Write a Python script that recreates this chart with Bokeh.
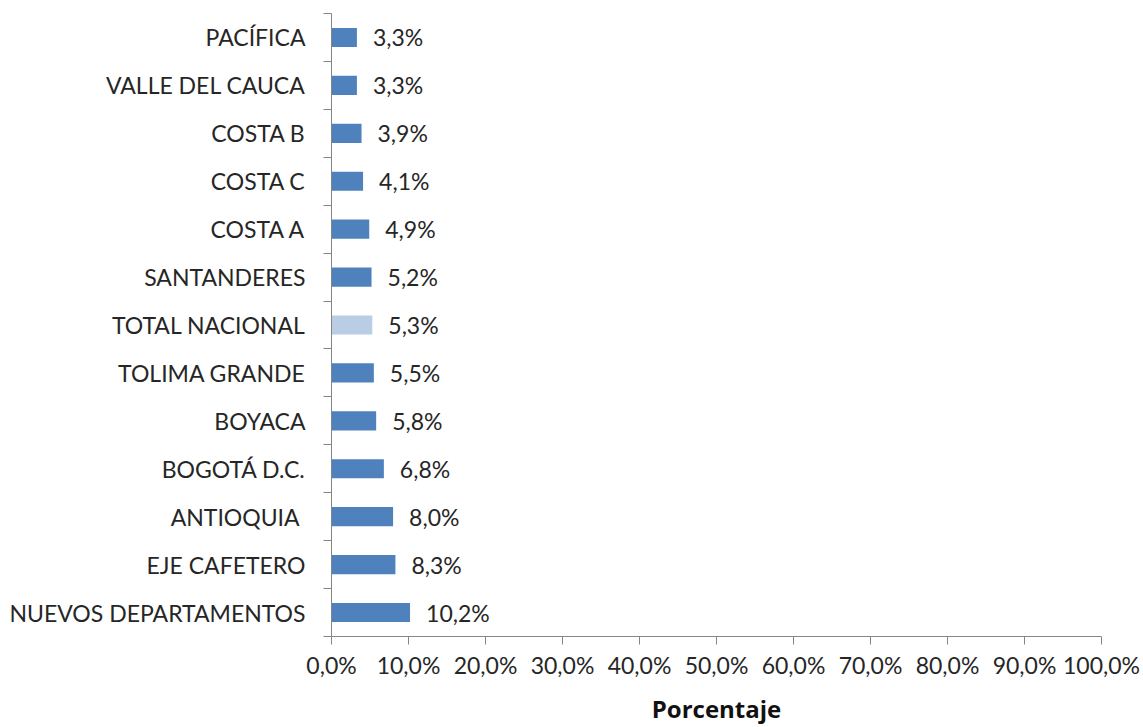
from bokeh.plotting import figure
from bokeh.models import FixedTicker, ColumnDataSource, Range1d
from bokeh.core.properties import value
from bokeh.embed import file_html
from bokeh.resources import INLINE

categories = ["NUEVOS DEPARTAMENTOS", "EJE CAFETERO", "ANTIOQUIA ", "BOGOTÁ D.C.",
              "BOYACA", "TOLIMA GRANDE", "TOTAL NACIONAL", "SANTANDERES", "COSTA A",
              "COSTA C", "COSTA B", "VALLE DEL CAUCA", "PACÍFICA"]
values = [10.2, 8.3, 8.0, 6.8, 5.8, 5.5, 5.3, 5.2, 4.9, 4.1, 3.9, 3.3, 3.3]
x_ticks = [0, 10, 20, 30, 40, 50, 60, 70, 80, 90, 100]

FONT = "Lato"
FS = "23px"
DARK = "#262626"
AXIS = "#868686"

ypos = [i + 0.5 for i in range(len(categories))]
colors = ["#B9CDE5" if c == "TOTAL NACIONAL" else "#4F81BD" for c in categories]
labels = [f"{v:.1f}%".replace(".", ",") for v in values]

src = ColumnDataSource(dict(y=ypos, v=values, c=colors, lab=labels))

p = figure(width=1143, height=727, output_backend="svg", toolbar_location=None,
           x_range=Range1d(0, 100), y_range=Range1d(0, len(categories)),
           min_border_left=331, min_border_right=42, min_border_top=13, min_border_bottom=90)
p.outline_line_color = None
p.xgrid.visible = False
p.ygrid.visible = False

p.hbar(y="y", right="v", left=0, height=0.4, fill_color="c", line_color=None, source=src)
p.text(x="v", y="y", text="lab", source=src, x_offset=16, text_baseline="middle",
       text_align="left", text_font=value(FONT), text_font_size=FS, text_color=DARK)

# y axis
ya = p.yaxis[0]
ya.ticker = FixedTicker(ticks=ypos, minor_ticks=list(range(len(categories) + 1)))
ya.major_label_overrides = {y: c for y, c in zip(ypos, categories)}
ya.major_tick_out = 0
ya.major_tick_in = 0
ya.minor_tick_out = 8
ya.minor_tick_in = 0
ya.minor_tick_line_color = AXIS
ya.axis_line_color = AXIS
ya.major_label_text_font = FONT
ya.major_label_text_font_size = FS
ya.major_label_text_color = DARK
ya.major_label_standoff = 18

# x axis
xa = p.xaxis[0]
xa.ticker = FixedTicker(ticks=x_ticks)
xa.major_label_overrides = {t: f"{t:.1f}%".replace(".", ",") for t in x_ticks}
xa.major_tick_out = 8
xa.major_tick_in = 0
xa.minor_tick_out = 0
xa.minor_tick_in = 0
xa.major_tick_line_color = AXIS
xa.axis_line_color = AXIS
xa.major_label_text_font = FONT
xa.major_label_text_font_size = FS
xa.major_label_text_color = DARK
xa.major_label_text_line_height = 0.9
xa.major_label_standoff = 6
xa.axis_label = "Porcentaje"
xa.axis_label_text_font = "Open Sans"
xa.axis_label_text_font_size = "24px"
xa.axis_label_text_font_style = "bold"
xa.axis_label_text_color = "#111111"
xa.axis_label_text_line_height = 0.9
xa.axis_label_standoff = 10

open("out.html", "w").write(file_html(p, INLINE))
